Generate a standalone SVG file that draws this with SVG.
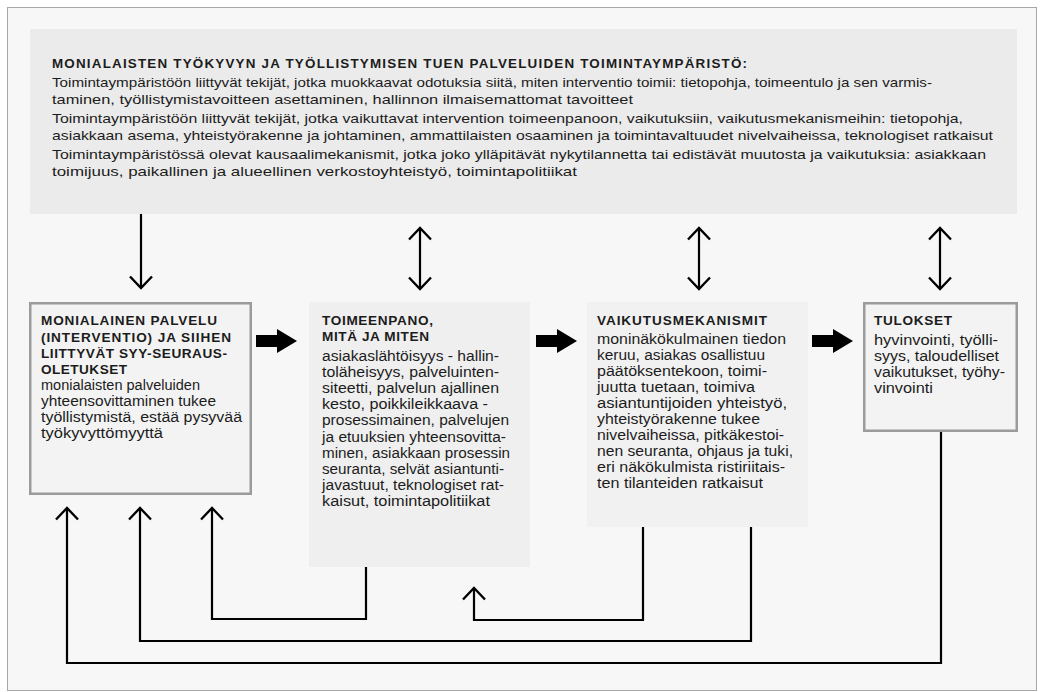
<svg xmlns="http://www.w3.org/2000/svg" width="1044" height="692" viewBox="0 0 1044 692">
<style>
.t{font-family:"Liberation Sans",Arial,sans-serif;fill:#1c1c1c}
.h{font-weight:700;font-size:13.4px}
.p{font-size:12.9px}
.b{font-size:14px}
.hb{font-weight:700;font-size:13.6px}
.ln{fill:none;stroke:#000;stroke-width:2.2}
.blk{fill:#000}
</style>
<defs>
<marker id="ah" viewBox="-15 -14 18 28" refX="0" refY="0" markerWidth="18" markerHeight="28" markerUnits="userSpaceOnUse" orient="auto-start-reverse">
<path d="M-11.5,-11 L0,0 L-11.5,11" fill="none" stroke="#000" stroke-width="2.4"/>
</marker>
</defs>
<rect x="0" y="0" width="1044" height="692" fill="#fff"/>
<rect x="7.5" y="7.5" width="1029" height="683" fill="#f7f7f7" stroke="#a8a8a8" stroke-width="1"/>

<g id="environment">
<rect x="30" y="29" width="987" height="185" fill="#ebebeb"/>
<text class="t h" x="52" y="68" textLength="695">MONIALAISTEN TYÖKYVYN JA TYÖLLISTYMISEN TUEN PALVELUIDEN TOIMINTAYMPÄRISTÖ:</text>
<text class="t p" x="52" y="87" textLength="880" lengthAdjust="spacingAndGlyphs">Toimintaympäristöön liittyvät tekijät, jotka muokkaavat odotuksia siitä, miten interventio toimii: tietopohja, toimeentulo ja sen varmis-</text>
<text class="t p" x="52" y="104" textLength="581" lengthAdjust="spacingAndGlyphs">taminen, työllistymistavoitteen asettaminen, hallinnon ilmaisemattomat tavoitteet</text>
<text class="t p" x="52" y="123" textLength="911" lengthAdjust="spacingAndGlyphs">Toimintaympäristöön liittyvät tekijät, jotka vaikuttavat intervention toimeenpanoon, vaikutuksiin, vaikutusmekanismeihin: tietopohja,</text>
<text class="t p" x="52" y="140" textLength="941" lengthAdjust="spacingAndGlyphs">asiakkaan asema, yhteistyörakenne ja johtaminen, ammattilaisten osaaminen ja toimintavaltuudet nivelvaiheissa, teknologiset ratkaisut</text>
<text class="t p" x="52" y="159" textLength="934" lengthAdjust="spacingAndGlyphs">Toimintaympäristössä olevat kausaalimekanismit, jotka joko ylläpitävät nykytilannetta tai edistävät muutosta ja vaikutuksia: asiakkaan</text>
<text class="t p" x="52" y="176" textLength="525" lengthAdjust="spacingAndGlyphs">toimijuus, paikallinen ja alueellinen verkostoyhteistyö, toimintapolitiikat</text>
</g>

<g id="intervention">
<rect x="30.25" y="303.25" width="220.5" height="190.5" fill="#f3f3f3" stroke="#9b9b9b" stroke-width="2.5"/>
<text class="t hb" x="41" y="325" textLength="176">MONIALAINEN PALVELU</text>
<text class="t hb" x="41" y="341.5" textLength="190">(INTERVENTIO) JA SIIHEN</text>
<text class="t hb" x="41" y="358" textLength="186">LIITTYVÄT SYY-SEURAUS-</text>
<text class="t hb" x="41" y="374" textLength="86">OLETUKSET</text>
<g lengthAdjust="spacingAndGlyphs">
<text class="t b" x="41" y="390" textLength="159" lengthAdjust="spacingAndGlyphs">monialaisten palveluiden</text>
<text class="t b" x="41" y="406" textLength="175" lengthAdjust="spacingAndGlyphs">yhteensovittaminen tukee</text>
<text class="t b" x="41" y="422" textLength="201" lengthAdjust="spacingAndGlyphs">työllistymistä, estää pysyvää</text>
<text class="t b" x="41" y="438" textLength="122" lengthAdjust="spacingAndGlyphs">työkyvyttömyyttä</text>
</g>
</g>

<g id="implementation">
<rect x="309" y="302" width="221" height="265" fill="#efefef"/>
<text class="t hb" x="322" y="325" textLength="111">TOIMEENPANO,</text>
<text class="t hb" x="322" y="341" textLength="107">MITÄ JA MITEN</text>
<text class="t b" x="322" y="361" textLength="177" lengthAdjust="spacingAndGlyphs">asiakaslähtöisyys - hallin-</text>
<text class="t b" x="322" y="377.1" textLength="177" lengthAdjust="spacingAndGlyphs">toläheisyys, palveluinten-</text>
<text class="t b" x="322" y="393.2" textLength="177" lengthAdjust="spacingAndGlyphs">siteetti, palvelun ajallinen</text>
<text class="t b" x="322" y="409.3" textLength="166" lengthAdjust="spacingAndGlyphs">kesto, poikkileikkaava -</text>
<text class="t b" x="322" y="425.4" textLength="187" lengthAdjust="spacingAndGlyphs">prosessimainen, palvelujen</text>
<text class="t b" x="322" y="441.5" textLength="184" lengthAdjust="spacingAndGlyphs">ja etuuksien yhteensovitta-</text>
<text class="t b" x="322" y="457.6" textLength="188" lengthAdjust="spacingAndGlyphs">minen, asiakkaan prosessin</text>
<text class="t b" x="322" y="473.7" textLength="182" lengthAdjust="spacingAndGlyphs">seuranta, selvät asiantunti-</text>
<text class="t b" x="322" y="489.8" textLength="182" lengthAdjust="spacingAndGlyphs">javastuut, teknologiset rat-</text>
<text class="t b" x="322" y="506" textLength="168" lengthAdjust="spacingAndGlyphs">kaisut, toimintapolitiikat</text>
</g>

<g id="mechanisms">
<rect x="587" y="302" width="221" height="225" fill="#f1f1f1"/>
<text class="t hb" x="597" y="325" textLength="170">VAIKUTUSMEKANISMIT</text>
<text class="t b" x="597" y="344" textLength="189" lengthAdjust="spacingAndGlyphs">moninäkökulmainen tiedon</text>
<text class="t b" x="597" y="360" textLength="168" lengthAdjust="spacingAndGlyphs">keruu, asiakas osallistuu</text>
<text class="t b" x="597" y="376" textLength="170" lengthAdjust="spacingAndGlyphs">päätöksentekoon, toimi-</text>
<text class="t b" x="597" y="392" textLength="158" lengthAdjust="spacingAndGlyphs">juutta tuetaan, toimiva</text>
<text class="t b" x="597" y="408" textLength="190" lengthAdjust="spacingAndGlyphs">asiantuntijoiden yhteistyö,</text>
<text class="t b" x="597" y="424" textLength="163" lengthAdjust="spacingAndGlyphs">yhteistyörakenne tukee</text>
<text class="t b" x="597" y="440" textLength="187" lengthAdjust="spacingAndGlyphs">nivelvaiheissa, pitkäkestoi-</text>
<text class="t b" x="597" y="456" textLength="196" lengthAdjust="spacingAndGlyphs">nen seuranta, ohjaus ja tuki,</text>
<text class="t b" x="597" y="472" textLength="188" lengthAdjust="spacingAndGlyphs">eri näkökulmista ristiriitais-</text>
<text class="t b" x="597" y="488" textLength="166" lengthAdjust="spacingAndGlyphs">ten tilanteiden ratkaisut</text>
</g>

<g id="results">
<rect x="864.25" y="303.25" width="152.5" height="127.5" fill="#f3f3f3" stroke="#9b9b9b" stroke-width="2.5"/>
<text class="t hb" x="874" y="325" textLength="78">TULOKSET</text>
<text class="t b" x="874" y="345" textLength="124" lengthAdjust="spacingAndGlyphs">hyvinvointi, työlli-</text>
<text class="t b" x="874" y="361" textLength="125" lengthAdjust="spacingAndGlyphs">syys, taloudelliset</text>
<text class="t b" x="874" y="377" textLength="131" lengthAdjust="spacingAndGlyphs">vaikutukset, työhy-</text>
<text class="t b" x="874" y="393" textLength="59" lengthAdjust="spacingAndGlyphs">vinvointi</text>
</g>

<g id="connectors">
<path class="ln" d="M141,214 V288" marker-end="url(#ah)"/>
<path class="ln" d="M420,228 V289" marker-start="url(#ah)" marker-end="url(#ah)"/>
<path class="ln" d="M699,228 V289" marker-start="url(#ah)" marker-end="url(#ah)"/>
<path class="ln" d="M940,228 V289" marker-start="url(#ah)" marker-end="url(#ah)"/>
<polygon class="blk" points="256,335 277,335 277,329 297,341 277,353 277,347 256,347"/>
<polygon class="blk" points="536,335 557,335 557,329 577,341 557,353 557,347 536,347"/>
<polygon class="blk" points="812,335 833,335 833,329 853,341 833,353 833,347 812,347"/>
<path class="ln" d="M366,567 V619 H212 V508" marker-end="url(#ah)"/>
<path class="ln" d="M643,527 V620 H474 V588" marker-end="url(#ah)"/>
<path class="ln" d="M751,527 V641 H140 V508" marker-end="url(#ah)"/>
<path class="ln" d="M941,432 V663 H67 V508" marker-end="url(#ah)"/>
</g>
</svg>
